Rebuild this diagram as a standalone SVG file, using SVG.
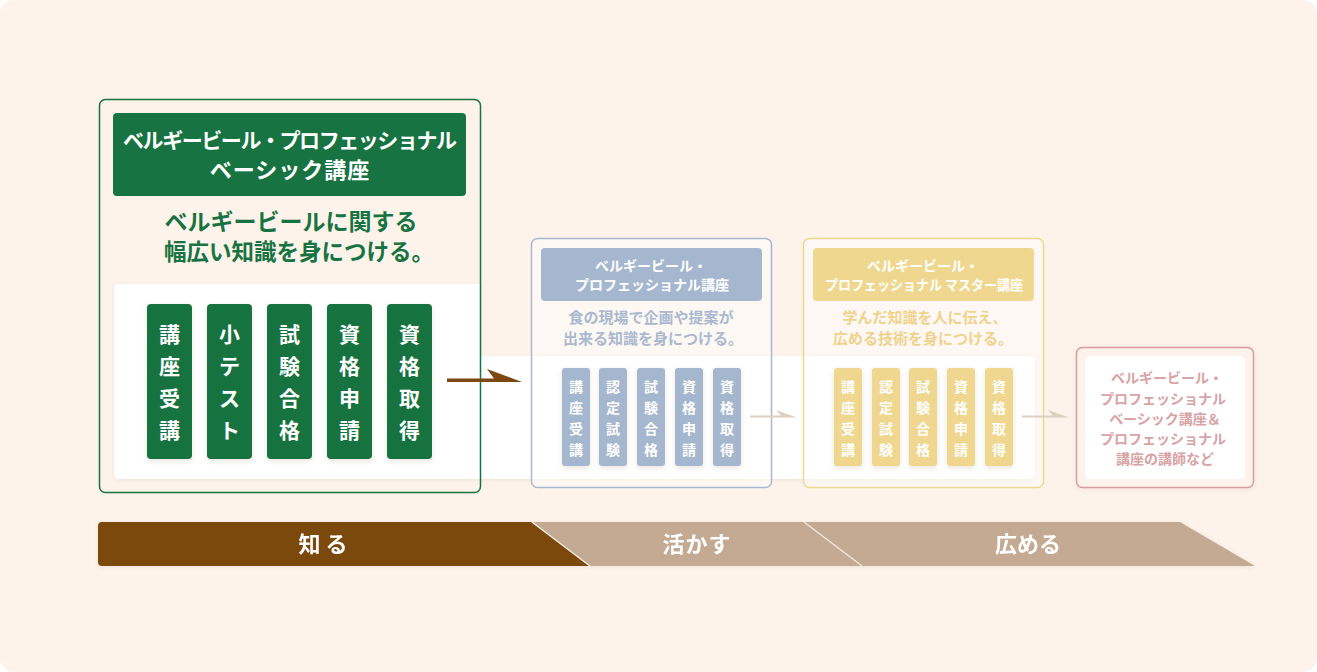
<svg xmlns="http://www.w3.org/2000/svg" width="1317" height="672" viewBox="0 0 1317 672">
<defs>
<filter id="sh" x="-20%" y="-20%" width="140%" height="140%"><feDropShadow dx="0" dy="2" stdDeviation="2.5" flood-color="#6b4a2a" flood-opacity="0.15"/></filter>
<filter id="sh2" x="-5%" y="-10%" width="110%" height="120%"><feDropShadow dx="0" dy="1" stdDeviation="2" flood-color="#6b4a2a" flood-opacity="0.1"/></filter>
<style>
text{font-family:"Noto Sans CJK JP","Noto Sans",sans-serif;font-weight:bold;text-anchor:middle}
.w{fill:#ffffff}
.g{fill:#177341}
.pg{fill:#177341}
.pb{fill:#a5b7ce}
.py{fill:#f0d78f}
.big{font-size:21px}
.sm{font-size:14px}
</style>
</defs>
<rect x="0" y="0" width="1317" height="672" rx="14" fill="#fdf3eb"/>

<g id="band" filter="url(#sh2)">
<path d="M120,284 H480 V356 H1029 Q1035,356 1035,362 V473 Q1035,479 1029,479 H120 Q114,479 114,473 V290 Q114,284 120,284 Z" fill="#ffffff"/>
</g>

<g id="box-basic">
<rect x="99.5" y="99.5" width="381" height="393" rx="6" fill="none" stroke="#177341" stroke-width="1.5"/>
<rect x="113" y="113" width="353" height="83" rx="4" fill="#177341"/>
<text class="w" font-size="21" x="290" y="148" textLength="334" lengthAdjust="spacing">ベルギービール・プロフェッショナル</text>
<text class="w" font-size="22" x="290" y="178" letter-spacing="1">ベーシック講座</text>
<text class="g" font-size="23" x="291" y="230">ベルギービールに関する</text>
<text class="g" font-size="22.5" x="299" y="260">幅広い知識を身につける。</text>
<g filter="url(#sh)">
<rect class="pg" x="147" y="304" width="45" height="155" rx="4"/>
<rect class="pg" x="207" y="304" width="45" height="155" rx="4"/>
<rect class="pg" x="267" y="304" width="45" height="155" rx="4"/>
<rect class="pg" x="327" y="304" width="45" height="155" rx="4"/>
<rect class="pg" x="387" y="304" width="45" height="155" rx="4"/>
</g>
<g>
<text class="w big" x="169.5" y="333" dominant-baseline="central">講</text>
<text class="w big" x="169.5" y="365" dominant-baseline="central">座</text>
<text class="w big" x="169.5" y="397" dominant-baseline="central">受</text>
<text class="w big" x="169.5" y="429" dominant-baseline="central">講</text>
<text class="w big" x="229.5" y="333" dominant-baseline="central">小</text>
<text class="w big" x="229.5" y="365" dominant-baseline="central">テ</text>
<text class="w big" x="229.5" y="397" dominant-baseline="central">ス</text>
<text class="w big" x="229.5" y="429" dominant-baseline="central">ト</text>
<text class="w big" x="289.5" y="333" dominant-baseline="central">試</text>
<text class="w big" x="289.5" y="365" dominant-baseline="central">験</text>
<text class="w big" x="289.5" y="397" dominant-baseline="central">合</text>
<text class="w big" x="289.5" y="429" dominant-baseline="central">格</text>
<text class="w big" x="349.5" y="333" dominant-baseline="central">資</text>
<text class="w big" x="349.5" y="365" dominant-baseline="central">格</text>
<text class="w big" x="349.5" y="397" dominant-baseline="central">申</text>
<text class="w big" x="349.5" y="429" dominant-baseline="central">請</text>
<text class="w big" x="409.5" y="333" dominant-baseline="central">資</text>
<text class="w big" x="409.5" y="365" dominant-baseline="central">格</text>
<text class="w big" x="409.5" y="397" dominant-baseline="central">取</text>
<text class="w big" x="409.5" y="429" dominant-baseline="central">得</text>
</g>
</g>

<g id="box-pro">
<rect x="531.5" y="238.5" width="240" height="249" rx="6" fill="#ffffff" fill-opacity="0.45" stroke="#a8b9cf" stroke-width="1.5"/>
<rect x="541" y="248" width="221" height="53" rx="4" fill="#a5b7ce"/>
<text class="w sm" x="651" y="271">ベルギービール・</text>
<text class="w sm" x="652" y="290">プロフェッショナル講座</text>
<text font-size="15" fill="#a9b9cf" x="651" y="323">食の現場で企画や提案が</text>
<text font-size="15" fill="#a9b9cf" x="653" y="344">出来る知識を身につける。</text>
<g filter="url(#sh)">
<rect class="pb" x="562" y="368" width="28" height="98" rx="3"/>
<rect class="pb" x="599" y="368" width="28" height="98" rx="3"/>
<rect class="pb" x="637" y="368" width="28" height="98" rx="3"/>
<rect class="pb" x="675" y="368" width="28" height="98" rx="3"/>
<rect class="pb" x="713" y="368" width="28" height="98" rx="3"/>
</g>
<text class="w sm" x="576" y="386" dominant-baseline="central">講</text>
<text class="w sm" x="576" y="407" dominant-baseline="central">座</text>
<text class="w sm" x="576" y="428" dominant-baseline="central">受</text>
<text class="w sm" x="576" y="449" dominant-baseline="central">講</text>
<text class="w sm" x="613" y="386" dominant-baseline="central">認</text>
<text class="w sm" x="613" y="407" dominant-baseline="central">定</text>
<text class="w sm" x="613" y="428" dominant-baseline="central">試</text>
<text class="w sm" x="613" y="449" dominant-baseline="central">験</text>
<text class="w sm" x="651" y="386" dominant-baseline="central">試</text>
<text class="w sm" x="651" y="407" dominant-baseline="central">験</text>
<text class="w sm" x="651" y="428" dominant-baseline="central">合</text>
<text class="w sm" x="651" y="449" dominant-baseline="central">格</text>
<text class="w sm" x="689" y="386" dominant-baseline="central">資</text>
<text class="w sm" x="689" y="407" dominant-baseline="central">格</text>
<text class="w sm" x="689" y="428" dominant-baseline="central">申</text>
<text class="w sm" x="689" y="449" dominant-baseline="central">請</text>
<text class="w sm" x="727" y="386" dominant-baseline="central">資</text>
<text class="w sm" x="727" y="407" dominant-baseline="central">格</text>
<text class="w sm" x="727" y="428" dominant-baseline="central">取</text>
<text class="w sm" x="727" y="449" dominant-baseline="central">得</text>
</g>

<g id="box-master">
<rect x="803.5" y="238.5" width="240" height="249" rx="6" fill="#ffffff" fill-opacity="0.45" stroke="#f0d790" stroke-width="1.5"/>
<rect x="813" y="248" width="221" height="53" rx="4" fill="#f0d78f"/>
<text class="w sm" x="923" y="271">ベルギービール・</text>
<text class="w sm" x="924" y="290" textLength="198" lengthAdjust="spacingAndGlyphs">プロフェッショナル マスター講座</text>
<text font-size="15" fill="#efd38c" x="925" y="323">学んだ知識を人に伝え、</text>
<text font-size="15" fill="#efd38c" x="923" y="344">広める技術を身につける。</text>
<g filter="url(#sh)">
<rect class="py" x="834" y="368" width="28" height="98" rx="3"/>
<rect class="py" x="872" y="368" width="28" height="98" rx="3"/>
<rect class="py" x="909" y="368" width="28" height="98" rx="3"/>
<rect class="py" x="947" y="368" width="28" height="98" rx="3"/>
<rect class="py" x="985" y="368" width="28" height="98" rx="3"/>
</g>
<text class="w sm" x="848" y="386" dominant-baseline="central">講</text>
<text class="w sm" x="848" y="407" dominant-baseline="central">座</text>
<text class="w sm" x="848" y="428" dominant-baseline="central">受</text>
<text class="w sm" x="848" y="449" dominant-baseline="central">講</text>
<text class="w sm" x="886" y="386" dominant-baseline="central">認</text>
<text class="w sm" x="886" y="407" dominant-baseline="central">定</text>
<text class="w sm" x="886" y="428" dominant-baseline="central">試</text>
<text class="w sm" x="886" y="449" dominant-baseline="central">験</text>
<text class="w sm" x="923" y="386" dominant-baseline="central">試</text>
<text class="w sm" x="923" y="407" dominant-baseline="central">験</text>
<text class="w sm" x="923" y="428" dominant-baseline="central">合</text>
<text class="w sm" x="923" y="449" dominant-baseline="central">格</text>
<text class="w sm" x="961" y="386" dominant-baseline="central">資</text>
<text class="w sm" x="961" y="407" dominant-baseline="central">格</text>
<text class="w sm" x="961" y="428" dominant-baseline="central">申</text>
<text class="w sm" x="961" y="449" dominant-baseline="central">請</text>
<text class="w sm" x="999" y="386" dominant-baseline="central">資</text>
<text class="w sm" x="999" y="407" dominant-baseline="central">格</text>
<text class="w sm" x="999" y="428" dominant-baseline="central">取</text>
<text class="w sm" x="999" y="449" dominant-baseline="central">得</text>
</g>

<g id="box-instructor">
<rect x="1076.5" y="347.5" width="177" height="140" rx="6" fill="#fdf3eb" stroke="#d99c9e" stroke-width="1.5" filter="url(#sh2)"/>
<rect x="1085" y="356" width="160" height="123" rx="5" fill="#ffffff"/>
<text class="sm" fill="#d8a3a4" x="1167" y="383">ベルギービール・</text>
<text class="sm" fill="#d8a3a4" x="1163" y="404">プロフェッショナル</text>
<text class="sm" fill="#d8a3a4" x="1165" y="424">ベーシック講座＆</text>
<text class="sm" fill="#d8a3a4" x="1163" y="444">プロフェッショナル</text>
<text class="sm" fill="#d8a3a4" x="1165" y="464">講座の講師など</text>
</g>

<g id="connectors">
<path d="M447,378.5 H494 L487,369 L522,382 H447 Z" fill="#7b4811"/>
<path d="M750,415.5 H781 L776,410 L797,417.5 H750 Z" fill="#ddd0c1"/>
<path d="M1022,415.5 H1053 L1048,410 L1069,417.5 H1022 Z" fill="#ddd0c1"/>
</g>

<g id="stages" filter="url(#sh2)">
<path d="M589,566 L531,522 H1180 L1255,566 Z" fill="#c4aa92"/>
<path d="M102,522 H531 L589,566 H102 Q98,566 98,562 V526 Q98,522 102,522 Z" fill="#7b4811"/>
<path d="M532,522 L590,566" stroke="#f5ece3" stroke-width="1.2"/>
<path d="M804,522 L862,566" stroke="#f5ece3" stroke-width="1.2"/>
<text class="w" font-size="22" x="323" y="552">知 る</text>
<text class="w" font-size="22" x="697" y="552" letter-spacing="1">活かす</text>
<text class="w" font-size="22" x="1028" y="552">広める</text>
</g>
</svg>
